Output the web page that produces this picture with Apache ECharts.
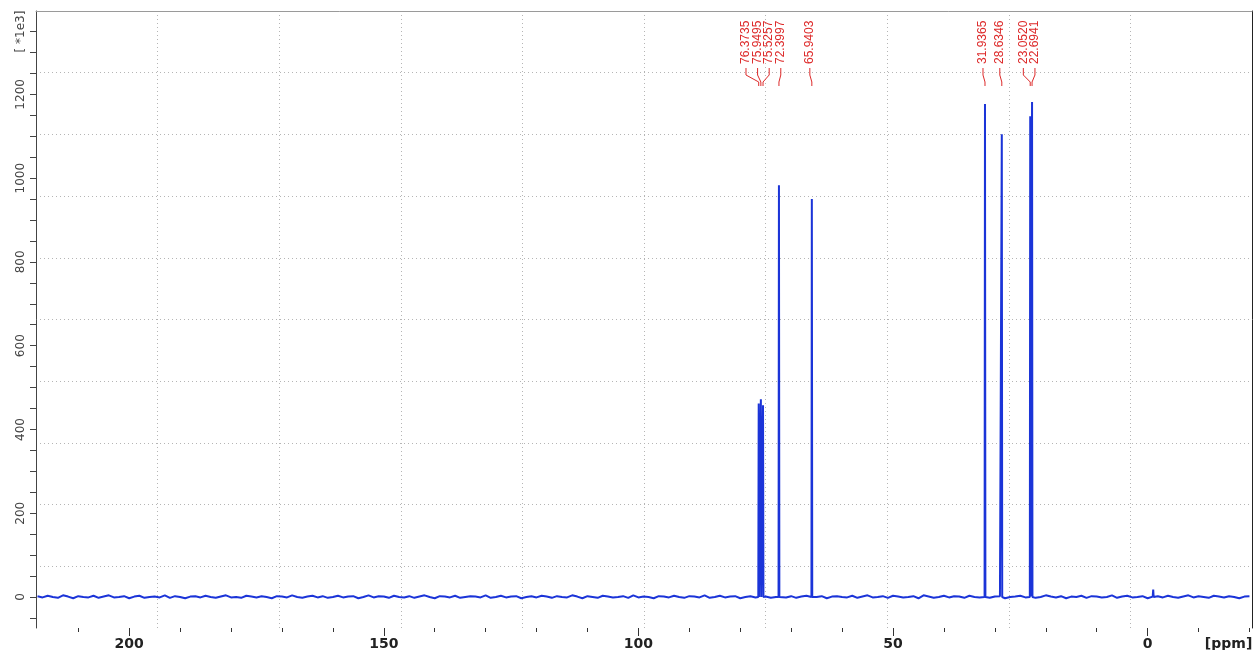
<!DOCTYPE html>
<html>
<head>
<meta charset="utf-8">
<script src="https://cdn.jsdelivr.net/npm/echarts@6/dist/echarts.min.js"></script>
<style>
html,body{margin:0;padding:0;background:#fff;}
#chart{width:1254px;height:650px;}
</style>
</head>
<body>
<div id="chart"></div>
<script>
// ---- data ----
const peakPpm    = [76.3735, 75.9495, 75.5257, 72.3997, 65.9403, 31.9365, 28.6346, 23.0520, 22.6941];
const peakHeight = [462, 472, 458, 983, 950, 1177, 1105, 1148, 1182];
const minorPeakPpm    = [-1.1];
const minorPeakHeight = [18];
// baseline noise, one sample per ppm from 218 ppm downwards
const noise = [
2,-1,3,0,-2,4,1,-3,2,0,
-1,3,-2,1,4,-1,0,2,-3,1,
3,-2,0,1,-1,4,-2,2,0,-3,
1,2,-1,3,0,-2,1,4,-1,0,
-2,3,1,-1,2,0,-3,2,1,-1,
4,0,-2,1,3,-1,2,-2,0,3,
-1,1,2,-3,0,4,-1,2,1,-2,
3,0,-1,2,-2,1,4,0,-3,2,
1,-1,3,-2,0,2,1,-1,4,-2,
0,3,-1,1,2,-3,0,2,-1,3,
1,-2,2,0,-1,4,1,-3,2,0,
-2,3,1,-1,0,2,-2,4,-1,1,
0,-3,2,1,-1,3,0,-2,2,1,
-1,4,-2,0,3,-1,1,2,-3,0,
2,-1,3,1,-2,0,4,-1,2,-2,
1,3,-1,0,2,-3,1,2,0,-1,
3,-2,1,4,-1,0,2,-2,3,1,
-1,0,2,-3,4,1,-2,0,3,-1,
2,1,-2,3,0,-1,4,-2,1,2,
-3,0,1,3,-1,2,-2,0,4,1,
-1,2,-3,1,0,3,-2,2,1,-1,
0,4,-2,1,3,-1,0,2,-3,1,
2,-1,3,0,-2,1,4,-1,2,0,
-2,3,1,-1,2,0,-3,1,2
];
const noiseStartPpm = 218;
const xTickValues  = [-20,-10,0,10,20,30,40,50,60,70,80,90,100,110,120,130,140,150,160,170,180,190,200,210];
const xLabelValues = [0,50,100,150,200];
const xUnitLabel = '[ppm]';
const yLabelValues = [0,200,400,600,800,1000,1200];
const yUnitLabel = '[ *1e3]';

// ---- axis ranges ----
const X_MIN = -20.5, X_MAX = 218.3;
const Y_MIN = -74, Y_MAX = 1399;
const X_UNIT_POS = -15.9;
const Y_UNIT_POS = 1350;
const yTickValues = [];
for (let v = -50; v <= 1350; v += 50) yTickValues.push(v);

// ---- spectrum points ----
const pts = [];
noise.forEach((v, i) => pts.push([noiseStartPpm - i, v]));
const HALF = 0.08;
peakPpm.forEach((p, i) => {
  pts.push([p + HALF, 0], [p, peakHeight[i]], [p - HALF, 0]);
});
minorPeakPpm.forEach((p, i) => {
  pts.push([p + HALF, 0], [p, minorPeakHeight[i]], [p - HALF, 0]);
});
pts.sort((a, b) => b[0] - a[0]);

const BLUE = '#1b34d8';
const RED = '#dd2a2a';

function spread(xs, d) {
  const order = xs.map((x, i) => i).sort((a, b) => xs[a] - xs[b]);
  let clusters = order.map(i => ({ idx: [i], center: xs[i] }));
  let merged = true;
  while (merged) {
    merged = false;
    for (let k = 0; k < clusters.length - 1; k++) {
      const a = clusters[k], b = clusters[k + 1];
      const aR = a.center + (a.idx.length - 1) * d / 2;
      const bL = b.center - (b.idx.length - 1) * d / 2;
      if (bL - aR < d) {
        const idx = a.idx.concat(b.idx);
        const center = idx.reduce((s, i) => s + xs[i], 0) / idx.length;
        clusters.splice(k, 2, { idx, center });
        merged = true;
        break;
      }
    }
  }
  const out = [];
  clusters.forEach(c => c.idx.forEach((i, j) => {
    out[i] = c.center + (j - (c.idx.length - 1) / 2) * d;
  }));
  return out;
}

function renderLabel(params, api) {
  const i = params.dataIndex;
  const xs = peakPpm.map(p => api.coord([p, 0])[0]);
  const lxs = spread(xs, 11.6);
  const lx = lxs[i] - 2;
  const px = xs[i];
  const top = api.coord([0, Y_MAX])[1];
  return {
    type: 'group',
    children: [
      {
        type: 'text', x: lx, y: top + 53, rotation: Math.PI / 2,
        style: {
          text: peakPpm[i].toFixed(4), fill: RED,
          font: '12px "Liberation Sans", Arial, sans-serif',
          align: 'left', verticalAlign: 'middle'
        }
      },
      {
        type: 'polyline',
        shape: { points: [[lx, top + 57], [lx, top + 64], [px, top + 71], [px, top + 75]] },
        style: { stroke: RED, fill: null, lineWidth: 1 }
      }
    ]
  };
}

const chart = echarts.init(document.getElementById('chart'), null, { renderer: 'canvas' });
const gridLine = { show: true, showMinLine: false, showMaxLine: false, lineStyle: { color: '#b5b5b5', type: [1, 3], width: 1 } };

chart.setOption({
  animation: false,
  backgroundColor: '#fff',
  grid: { left: 36, right: 2, top: 11, bottom: 22, containLabel: false, outerBoundsMode: 'none' },
  xAxis: [
    {
      type: 'value', min: X_MIN, max: X_MAX, inverse: true, position: 'bottom',
      axisLine: { show: false, onZero: false },
      axisTick: { show: true, customValues: xTickValues, length: 4, lineStyle: { color: '#333' } },
      axisLabel: { show: false }, splitLine: { show: false }
    },
    {
      type: 'value', min: X_MIN, max: X_MAX, inverse: true, position: 'bottom',
      axisLine: { show: false, onZero: false },
      axisTick: { show: true, customValues: xLabelValues, length: 8, lineStyle: { color: '#333' } },
      axisLabel: {
        show: true, customValues: xLabelValues.concat([X_UNIT_POS]), margin: 9,
        formatter: v => (Math.abs(v - X_UNIT_POS) < 1e-6 ? xUnitLabel : String(v)),
        color: '#222', fontWeight: 'bold', fontSize: 14, fontFamily: 'DejaVu Sans'
      },
      splitLine: { show: false }
    },
    {
      type: 'value', min: 0, max: 10, interval: 1, position: 'top',
      axisLine: { show: true, onZero: false, lineStyle: { color: '#9a9a9a', width: 1 } },
      axisTick: { show: false }, axisLabel: { show: false },
      splitLine: gridLine
    }
  ],
  yAxis: [
    {
      type: 'value', min: Y_MIN, max: Y_MAX, position: 'left',
      axisLine: { show: true, onZero: false, lineStyle: { color: '#444', width: 1 } },
      axisTick: { show: true, customValues: yTickValues, length: 6, lineStyle: { color: '#444' } },
      axisLabel: {
        show: true, customValues: yLabelValues.concat([Y_UNIT_POS]), rotate: 90, margin: 9,
        formatter: v => (Math.abs(v - Y_UNIT_POS) < 1e-6 ? yUnitLabel : String(v)),
        color: '#444', fontSize: 12, fontFamily: 'DejaVu Sans'
      },
      splitLine: { show: false }
    },
    {
      type: 'value', min: 0, max: 10, interval: 1, position: 'right',
      axisLine: { show: true, onZero: false, lineStyle: { color: '#222', width: 1 } },
      axisTick: { show: false }, axisLabel: { show: false },
      splitLine: gridLine
    }
  ],
  series: [
    {
      type: 'line', xAxisIndex: 0, yAxisIndex: 0, data: pts,
      showSymbol: false, symbol: 'none', sampling: null,
      lineStyle: { color: BLUE, width: 2 }, z: 3
    },
    {
      type: 'custom', xAxisIndex: 0, yAxisIndex: 0,
      data: peakPpm.map(p => [p, 0]), renderItem: renderLabel,
      clip: false, z: 4, silent: true
    }
  ]
});
</script>
</body>
</html>
